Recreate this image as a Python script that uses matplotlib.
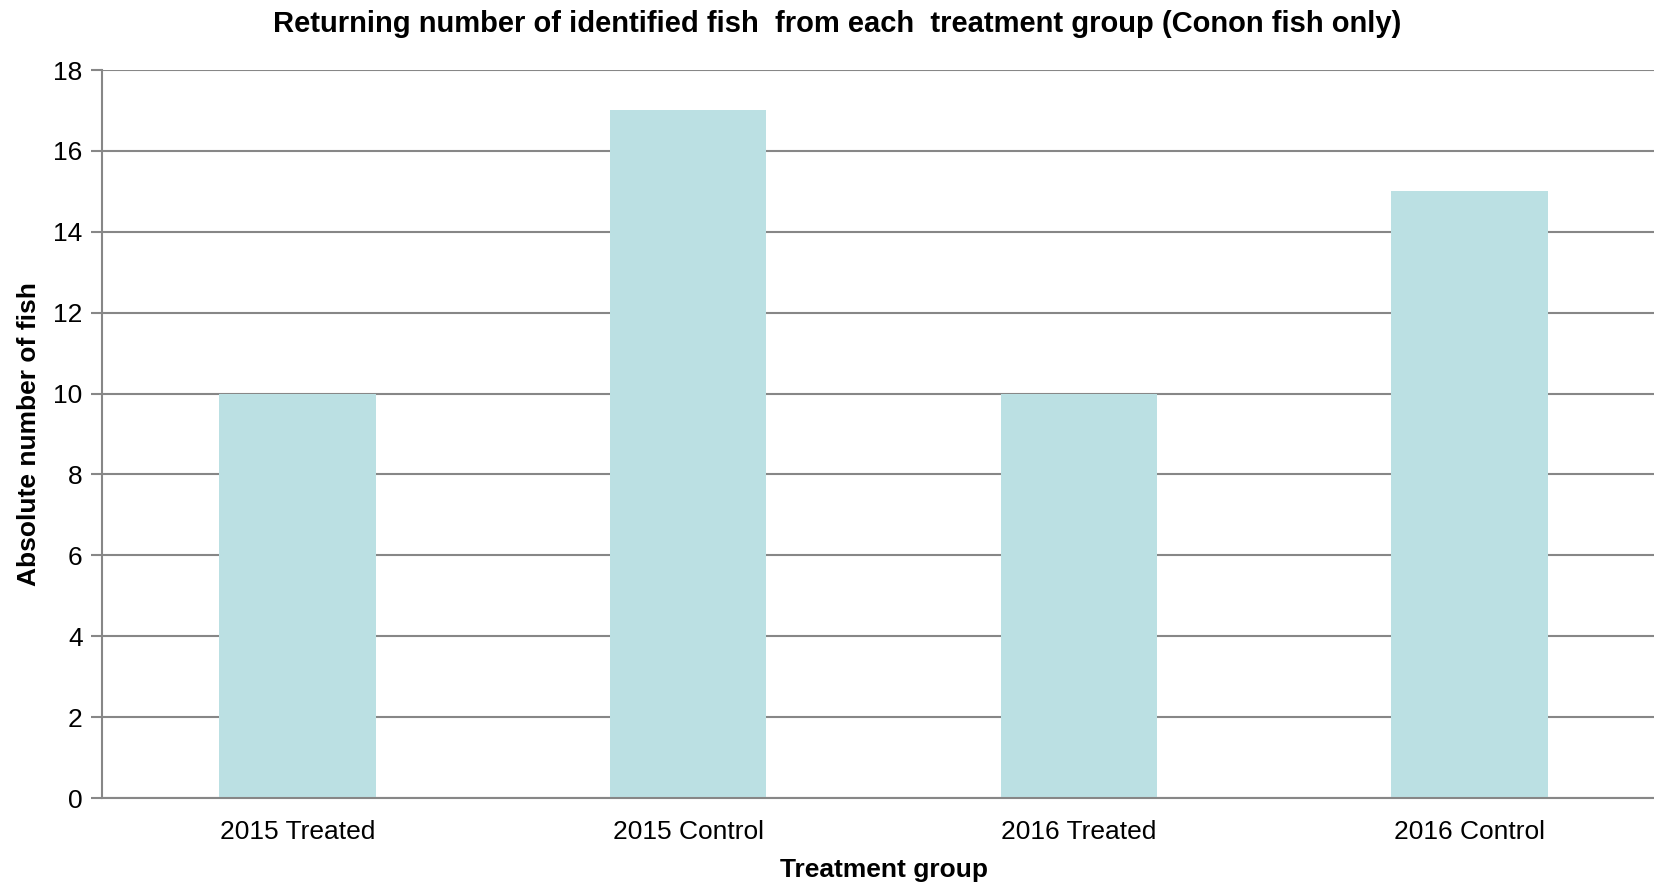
import numpy as np
import matplotlib.pyplot as plt

plt.rcParams['font.family'] = ['Liberation Sans', 'DejaVu Sans']

# Returning fish per treatment group
groups = ['2015 Treated', '2015 Control', '2016 Treated', '2016 Control']
fish_counts = [10, 17, 10, 15]

fig = plt.figure(figsize=(16.54, 8.83), dpi=100)
ax = fig.add_axes([102 / 1654, 1 - 798 / 883, 1563 / 1654, (798 - 70) / 883])

x = np.arange(len(groups))
ax.bar(x, fish_counts, width=0.4, color='#BBE0E3', zorder=2)

ax.set_xlim(-0.5, len(groups) - 0.5)
ax.set_ylim(0, 18)
ax.set_yticks(np.arange(0, 19, 2))
ax.set_xticks(x)
ax.set_xticklabels(groups)

ax.grid(axis='y', color='#878787', linewidth=1.5, zorder=1)
for side in ['top', 'right']:
    ax.spines[side].set_visible(False)
ax.spines['left'].set_color('#878787')
ax.spines['bottom'].set_color('#878787')
ax.spines['left'].set_linewidth(1.5)
ax.spines['bottom'].set_linewidth(1.5)
ax.tick_params(axis='y', length=8, width=1.5, color='#878787', labelsize=19, pad=6)
ax.tick_params(axis='x', length=0, labelsize=19, pad=16)

ax.set_xlabel('Treatment group', fontsize=19, fontweight='bold', labelpad=10)
ax.set_ylabel('Absolute number of fish', fontsize=19, fontweight='bold', labelpad=9)
fig.text(837 / 1654, 1 - 24 / 883, 'Returning number of identified fish  from each  treatment group (Conon fish only)',
         ha='center', va='center', fontsize=21, fontweight='bold')

fig.savefig('out.png', dpi=100)
